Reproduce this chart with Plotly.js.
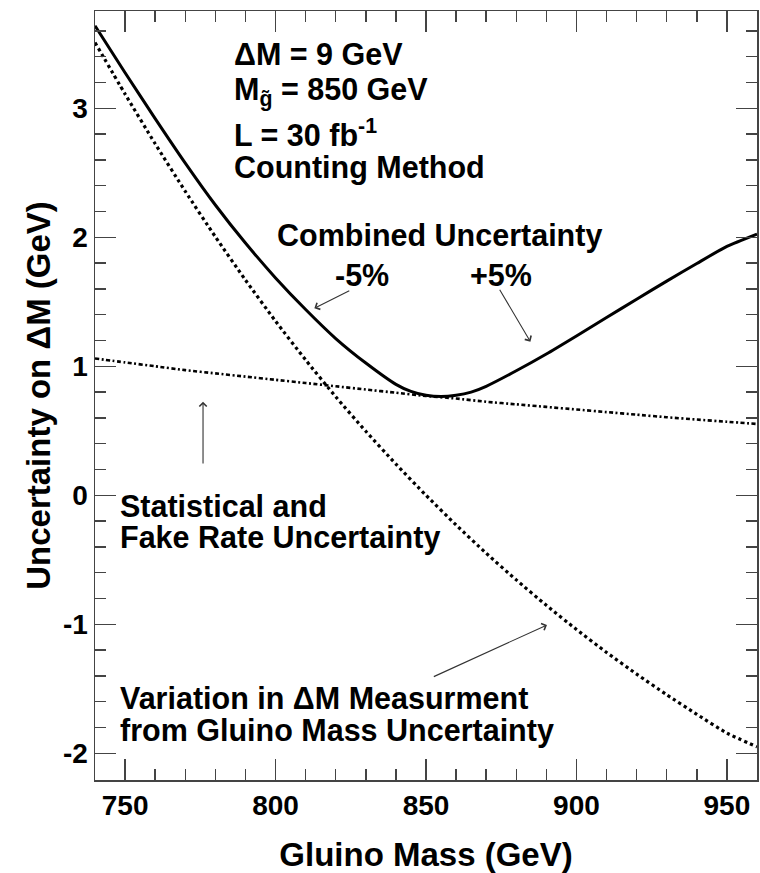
<!DOCTYPE html>
<html><head><meta charset="utf-8">
<script src="https://cdn.plot.ly/plotly-3.0.1.min.js"></script>
<style>html,body{margin:0;padding:0;background:#fff}#chart{width:760px;height:873px}</style>
</head><body><div id="chart"></div>
<script>
// ---- data ----
const massCombined = [740,750,760,770,780,790,800,810,820,830,840,845,850,855,860,865,870,880,890,900,910,920,930,940,950,960];
const combinedUnc  = [3.64,3.275,2.92,2.575,2.25,1.955,1.685,1.44,1.215,1.025,0.86,0.805,0.775,0.765,0.775,0.80,0.845,0.965,1.095,1.235,1.378,1.52,1.66,1.797,1.929,2.025];

const massStat = [740,750,760,770,780,790,800,810,820,830,840,850,860,870,880,890,900,910,920,930,940,950,960];
const statUnc  = [1.06,1.03,1.0,0.97,0.945,0.92,0.895,0.87,0.845,0.82,0.795,0.77,0.75,0.725,0.705,0.685,0.665,0.645,0.625,0.605,0.587,0.57,0.553];

const massVar = [740,750,760,770,780,790,800,810,820,830,840,850,860,870,880,890,900,910,920,930,940,950,960];
const varUnc  = [3.51,3.11,2.725,2.356,2.004,1.669,1.35,1.049,0.764,0.496,0.242,0,-0.23,-0.449,-0.656,-0.853,-1.04,-1.218,-1.386,-1.546,-1.698,-1.843,-1.95];

const xTickVals = [750,800,850,900,950];
const xTickText = ['750','800','850','900','950'];
const yTickVals = [-2,-1,0,1,2,3];
const yTickText = ['-2','-1','0','1','2','3'];

const infoLines = ['\u0394M = 9 GeV','M<sub>g\u0303</sub> = 850 GeV','L = 30 fb<sup>-1</sup>','Counting Method'];
const combinedLabel = 'Combined Uncertainty';
const minusLabel = '-5%';
const plusLabel = '+5%';
const statLines = ['Statistical and','Fake Rate Uncertainty'];
const varLines = ['Variation in \u0394M Measurment','from Gluino Mass Uncertainty'];

// ---- chart ----
const FONT = 'Liberation Sans, Arial, Helvetica, sans-serif';
const traces = [
  {x: massCombined, y: combinedUnc, type:'scatter', mode:'lines', line:{color:'#000', width:3, shape:'spline', smoothing:0.6}, hoverinfo:'skip'},
  {x: massVar, y: varUnc, type:'scatter', mode:'lines', line:{color:'#000', width:3.2, dash:'dot', shape:'spline', smoothing:0.6}, hoverinfo:'skip'},
  {x: massStat, y: statUnc, type:'scatter', mode:'lines', line:{color:'#000', width:2.6, dash:'4px,2.5px,2px,2.5px', shape:'spline', smoothing:0.6}, hoverinfo:'skip'}
];

function txt(text, x, y, size) {
  return {text:text, x:x, y:y, xref:'x', yref:'y', xanchor:'left', yanchor:'middle', showarrow:false,
    borderpad:0, font:{family:FONT, size:size || 30.5, color:'#000', weight:'bold'}};
}
function arrow(x, y, ax, ay) {
  return {text:'', x:x, y:y, ax:ax, ay:ay, xref:'x', yref:'y', axref:'x', ayref:'y', showarrow:true,
    arrowhead:4, arrowsize:1.3, arrowwidth:1.1, arrowcolor:'#333', standoff:0, startstandoff:0};
}

const annotations = [
  txt(infoLines[0], 785.8, 3.419),
  txt(infoLines[1], 785.8, 3.129),
  txt(infoLines[2], 785.8, 2.805),
  txt(infoLines[3], 785.8, 2.540),
  txt(combinedLabel, 800.0, 2.012),
  txt(minusLabel, 819.5, 1.708),
  txt(plusLabel, 864.2, 1.708),
  txt(statLines[0], 748.0, -0.083),
  txt(statLines[1], 748.0, -0.331),
  txt(varLines[0], 748.0, -1.571),
  txt(varLines[1], 748.0, -1.827),
  arrow(812.9, 1.450, 825.0, 1.591),
  arrow(884.7, 1.191, 874.2, 1.605),
  arrow(775.9, 0.726, 775.9, 0.235),
  arrow(890.2, -1.005, 852.1, -1.411)
];

const axisCommon = {
  ticks:'inside', ticklen:21, tickwidth:1.5, tickcolor:'#444',
  showline:true, linecolor:'#444', linewidth:1.5, mirror:'ticks',
  showgrid:false, zeroline:false, fixedrange:true,
  tickfont:{family:FONT, size:28, color:'#000', weight:'bold'}
};

const layout = {
  width:760, height:873,
  margin:{l:95, r:1, t:11, b:93},
  paper_bgcolor:'#fff', plot_bgcolor:'#fff',
  showlegend:false,
  font:{family:FONT, color:'#000'},
  xaxis: Object.assign({}, axisCommon, {
    range:[740,960], tickmode:'array', tickvals:xTickVals, ticktext:xTickText,
    minor:{dtick:10, tick0:740, ticks:'inside', ticklen:11, tickwidth:1.5, tickcolor:'#444', showgrid:false},
    title:{text:'Gluino Mass (GeV)', font:{family:FONT, size:33, color:'#000', weight:'bold'}}
  }),
  yaxis: Object.assign({}, axisCommon, {
    range:[-2.207,3.754], tickmode:'array', tickvals:yTickVals, ticktext:yTickText,
    automargin:true,
    minor:{dtick:0.2, tick0:0, ticks:'inside', ticklen:11, tickwidth:1.5, tickcolor:'#444', showgrid:false},
    title:{text:'Uncertainty on \u0394M (GeV)', standoff:2, font:{family:FONT, size:33, color:'#000', weight:'bold'}}
  }),
  annotations: annotations
};

Plotly.newPlot('chart', traces, layout, {displayModeBar:false, staticPlot:true});
</script>
</body></html>
